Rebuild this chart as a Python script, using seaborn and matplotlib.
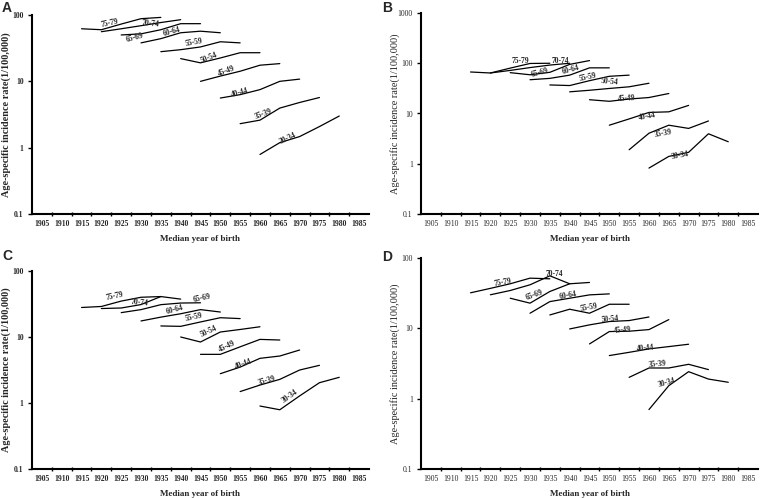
import numpy as np
import pandas as pd
import matplotlib
matplotlib.use("Agg")
import matplotlib.pyplot as plt
import seaborn as sns

# age groups and the first cohort (median year of birth) of each
ages = ['75-79', '70-74', '65-69', '60-64', '55-59', '50-54', '45-49', '40-44', '35-39', '30-34']
first_year = [1915, 1920, 1925, 1930, 1935, 1940, 1945, 1950, 1955, 1960]
year_labels = [1905, 1910, 1915, 1920, 1925, 1930, 1935, 1940, 1945, 1950,
               1955, 1960, 1965, 1970, 1975, 1980, 1985]

# rates per 100,000, five cohorts for each age group
rates_a = [[62, 60, 73, 88, 92],
           [56, 62, 69, 77, 85],
           [50, 52, 60, 74, 74],
           [38, 44, 54, 57, 54],
           [28, 30, 33, 39.5, 38],
           [22, 19, 22.5, 27, 27],
           [10, 12, 14.2, 17.5, 18.5],
           [5.6, 6.3, 7.5, 10, 10.8],
           [2.3, 2.6, 3.95, 4.8, 5.7],
           [0.79, 1.19, 1.47, 2.08, 3.0]]
rates_b = [[67, 64, 80, 99, 100],
           [64, 72, 82, 92, 100],
           [65, 59, 66, 95, 113],
           [47, 50, 58, 81, 81],
           [37, 36, 45, 55, 58],
           [27, 29, 31.5, 34, 40],
           [18.8, 17.5, 19.4, 20.8, 25],
           [5.85, 7.8, 10.5, 10.8, 14.5],
           [1.9, 4.05, 5.85, 5.05, 7.1],
           [0.82, 1.4, 1.69, 3.95, 2.74]]
rates_c = [[28, 29, 35, 40, 41],
           [27, 27.5, 31, 41, 37.5],
           [23.4, 26, 30.9, 32.7, 33],
           [17.5, 20, 22.5, 26, 23.9],
           [14.7, 14.5, 16.9, 19.6, 19],
           [10, 8.4, 11.9, 13, 14.3],
           [5.46, 5.46, 7.1, 9.2, 9.0],
           [2.78, 3.5, 4.75, 5.15, 6.35],
           [1.49, 1.87, 2.28, 3.16, 3.72],
           [0.9, 0.79, 1.28, 2.03, 2.45]]
rates_d = [[32, 37, 43, 51.7, 50.6],
           [30, 34.5, 41.6, 55.8, 43],
           [26.8, 22.8, 33.4, 43, 44.9],
           [16.4, 24, 26.8, 29.9, 30.9],
           [15.5, 18.7, 16.4, 22, 22],
           [9.8, 11.2, 12.5, 12.9, 14.5],
           [6.0, 9.0, 9.1, 9.6, 13.3],
           [4.1, 4.56, 5.1, 5.5, 5.94],
           [2.01, 2.73, 2.73, 3.08, 2.59],
           [0.70, 1.53, 2.42, 1.9, 1.71]]

# where each age-group label sits (x, y, rotation)
labels_a = [(1922.2, 76, 12), (1932.5, 73, -5), (1928.5, 46, 15), (1937.7, 55, 15),
            (1943.4, 38, 10), (1947.1, 22.5, 22), (1951.6, 14.2, 20), (1954.9, 6.8, 15),
            (1960.8, 3.2, 20), (1967.1, 1.38, 25)]
labels_b = [(1927.7, 112, 0), (1937.6, 112, 0), (1932.4, 65, 15), (1940.3, 73, 15),
            (1944.5, 52, 12), (1950.2, 42, -5), (1954.3, 19.7, 3), (1959.5, 8.8, 10),
            (1963.5, 3.95, 10), (1967.9, 1.46, 10)]
labels_c = [(1923.4, 41.8, 12), (1929.7, 33, -5), (1945.3, 39.4, 12), (1938.5, 26, 15),
            (1943.4, 19.6, 12), (1947.1, 12.3, 25), (1951.8, 7.3, 25), (1955.8, 3.94, 20),
            (1961.7, 2.2, 15), (1967.5, 1.28, 35)]
labels_d = [(1923.2, 44.4, 10), (1936.1, 59.6, 0), (1931.1, 29.3, 20), (1939.5, 29.3, 10),
            (1945.0, 20, 10), (1950.2, 13.3, 5), (1953.3, 9.5, 5), (1959.0, 5.2, 5),
            (1962.2, 3.12, 5), (1964.5, 1.71, 15)]


def to_frame(rates):
    rows = []
    for age, start, vals in zip(ages, first_year, rates):
        for i, v in enumerate(vals):
            rows.append({'age': age, 'year': start + 5 * i, 'rate': v})
    return pd.DataFrame(rows)


sns.set_theme(style='white')
plt.rcParams['font.family'] = ['Liberation Serif', 'DejaVu Serif']

fig = plt.figure(figsize=(7.6, 4.98), dpi=100)
W, H = 760, 498


def panel(letter, letter_xy, rates, labels, box, ytop, bold):
    left, top, right, bottom = box
    ax = fig.add_axes([left / W, 1 - bottom / H, (right - left) / W, (bottom - top) / H])
    df = to_frame(rates)
    sns.lineplot(data=df, x='year', y='rate', units='age', estimator=None,
                 color='black', linewidth=0.9, ax=ax, legend=False)
    ax.set_yscale('log')
    ax.set_ylim(0.1, ytop)
    ax.set_xlim(1902.5, 1987.5)
    yt = [0.1, 1, 10, 100] + ([1000] if ytop > 100 else [])
    ax.set_yticks(yt)
    ax.set_yticklabels(['0.1', '1', '10', '100', '1000'][:len(yt)])
    ax.yaxis.set_minor_locator(matplotlib.ticker.NullLocator())
    ax.set_xticks(year_labels)
    ax.set_xticks(np.arange(1907.5, 1987.5, 5), minor=True)
    w = 'bold' if bold else 'normal'
    ax.set_xticklabels([str(y) for y in year_labels], fontsize=5.5, fontweight=w)
    for t in ax.get_yticklabels():
        t.set_fontsize(5.5)
        t.set_fontweight(w)
    ax.tick_params(axis='x', which='major', length=0, pad=4)
    ax.tick_params(axis='x', which='minor', length=2.5, width=1, direction='inout',
                   bottom=True, color='black')
    ax.tick_params(axis='y', which='major', length=3, width=1, direction='out',
                   left=True, color='black', pad=3)
    for s in ['top', 'right']:
        ax.spines[s].set_visible(False)
    for s in ['left', 'bottom']:
        ax.spines[s].set_color('black')
        ax.spines[s].set_linewidth(1.5)
    ax.set_xlabel('Median year of birth', fontsize=6.5, fontweight='bold', labelpad=5)
    ax.set_ylabel('Age-specific incidence rate(1/100,000)', fontsize=7.4,
                  fontweight=w, va='center')
    # ylabel centre about 26 px left of the y axis
    ax.yaxis.set_label_coords(-26 / (right - left), 0.5)
    for age, (x, y, r) in zip(ages, labels):
        ax.text(x, y, age, fontsize=5.5, fontweight='bold', rotation=r,
                ha='center', va='center')
    fig.text(letter_xy[0] / W, 1 - letter_xy[1] / H, letter, fontsize=10,
             fontweight='bold', family='Liberation Sans', ha='left', va='center')
    return ax


panel('A', (2, 8), rates_a, labels_a, (32, 15, 369, 214), 100, True)
panel('B', (382, 8), rates_b, labels_b, (421, 13, 758, 214), 1000, False)
panel('C', (2, 256), rates_c, labels_c, (32, 271, 369, 469), 100, True)
panel('D', (382, 257), rates_d, labels_d, (421, 258, 758, 469), 100, False)

fig.savefig('out.png', dpi=100)
